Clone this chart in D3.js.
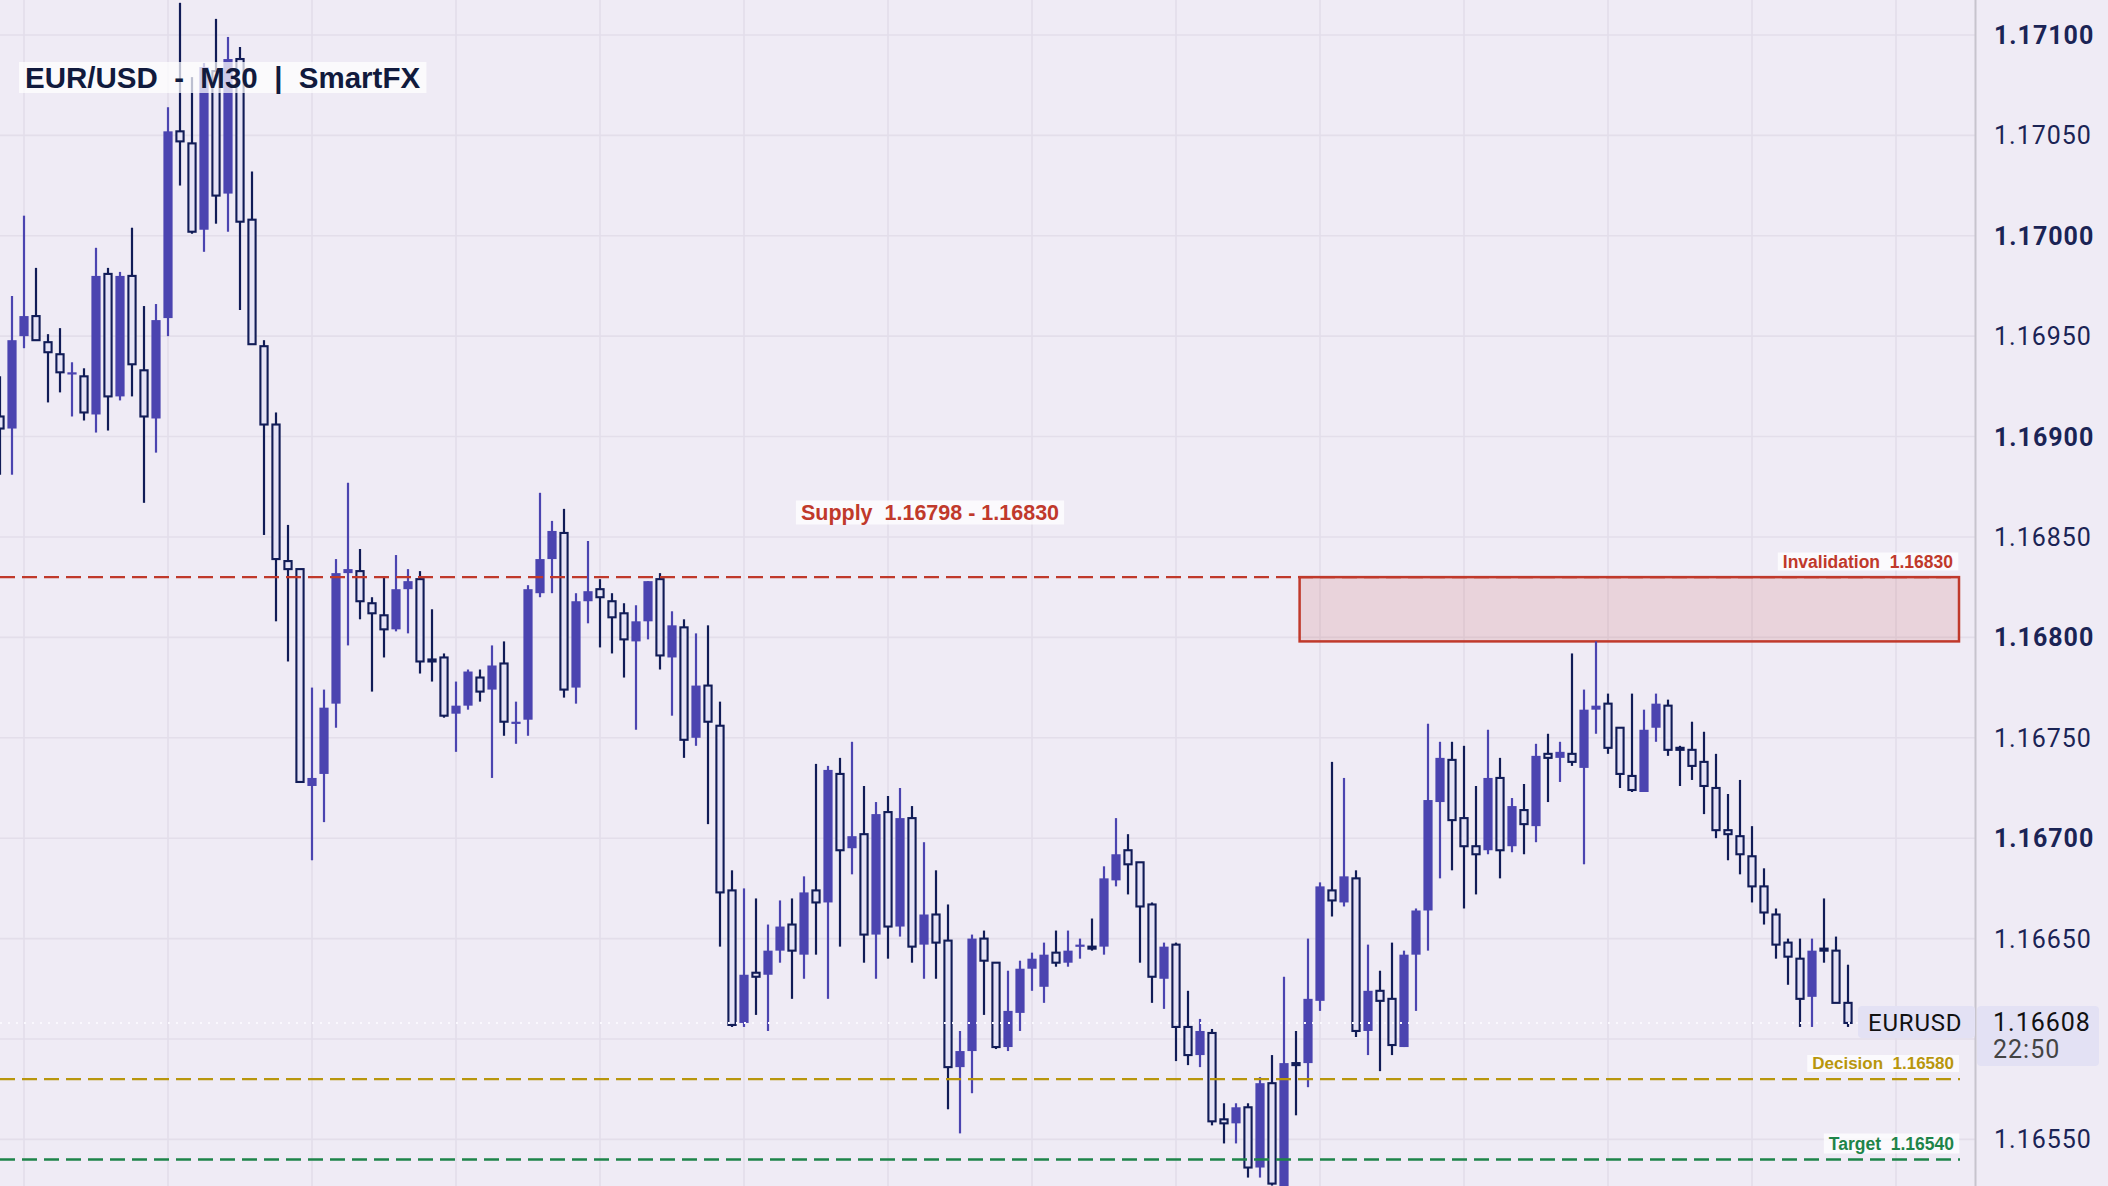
<!DOCTYPE html>
<html><head><meta charset="utf-8">
<script src="https://cdn.jsdelivr.net/npm/d3@7"></script>
<style>html,body{margin:0;padding:0;background:#EFEBF5;overflow:hidden}</style>
</head><body><svg id="c" width="2108" height="1186"></svg>
<script>
// ---- DATA ----
const openP = [
1.16910,1.16904,1.16950,1.16960,1.16947,1.16941,1.16931,1.16930,1.16911,1.16981,
1.16920,1.16980,1.16933,1.16909,1.16959,1.17052,1.17046,1.17003,1.17082,1.17021,
1.17088,1.17008,1.16945,1.16906,1.16838,1.16834,1.16726,1.16732,1.16767,1.16832,
1.16833,1.16817,1.16811,1.16804,1.16824,1.16829,1.16789,1.16790,1.16762,1.16766,
1.16780,1.16774,1.16787,1.16757,1.16759,1.16822,1.16839,1.16852,1.16775,1.16818,
1.16824,1.16818,1.16812,1.16798,1.16808,1.16829,1.16790,1.16805,1.16750,1.16776,
1.16756,1.16674,1.16608,1.16633,1.16632,1.16644,1.16657,1.16642,1.16674,1.16668,
1.16732,1.16695,1.16702,1.16652,1.16713,1.16656,1.16710,1.16647,1.16662,1.16649,
1.16586,1.16594,1.16650,1.16638,1.16596,1.16613,1.16635,1.16626,1.16643,1.16638,
1.16646,1.16646,1.16646,1.16679,1.16694,1.16688,1.16667,1.16630,1.16647,1.16606,
1.16592,1.16603,1.16560,1.16558,1.16566,1.16536,1.16578,1.16526,1.16588,1.16588,
1.16619,1.16674,1.16668,1.16680,1.16604,1.16624,1.16620,1.16596,1.16642,1.16664,
1.16718,1.16739,1.16710,1.16696,1.16694,1.16730,1.16696,1.16714,1.16706,1.16742,
1.16740,1.16742,1.16735,1.16764,1.16767,1.16755,1.16731,1.16723,1.16755,1.16766,
1.16745,1.16744,1.16738,1.16725,1.16704,1.16701,1.16691,1.16676,1.16662,1.16648,
1.16640,1.16621,1.16645,1.16644,1.16618];
const highP = [
1.16930,1.16970,1.17010,1.16984,1.16951,1.16954,1.16937,1.16934,1.16994,1.16984,
1.16982,1.17004,1.16965,1.16966,1.17064,1.17116,1.17079,1.17086,1.17108,1.17099,
1.17094,1.17032,1.16948,1.16912,1.16856,1.16834,1.16775,1.16774,1.16839,1.16877,
1.16844,1.16820,1.16830,1.16841,1.16834,1.16833,1.16814,1.16792,1.16778,1.16784,
1.16784,1.16796,1.16798,1.16768,1.16826,1.16872,1.16858,1.16864,1.16822,1.16848,
1.16829,1.16822,1.16817,1.16816,1.16828,1.16832,1.16813,1.16809,1.16802,1.16806,
1.16768,1.16684,1.16675,1.16670,1.16657,1.16669,1.16670,1.16681,1.16737,1.16736,
1.16740,1.16748,1.16726,1.16718,1.16721,1.16725,1.16716,1.16698,1.16684,1.16667,
1.16604,1.16652,1.16654,1.16638,1.16634,1.16639,1.16643,1.16648,1.16654,1.16654,
1.16650,1.16660,1.16686,1.16710,1.16702,1.16688,1.16668,1.16648,1.16648,1.16624,
1.16610,1.16605,1.16568,1.16568,1.16568,1.16581,1.16592,1.16631,1.16604,1.16650,
1.16678,1.16738,1.16730,1.16684,1.16647,1.16634,1.16648,1.16644,1.16665,1.16757,
1.16748,1.16748,1.16746,1.16726,1.16754,1.16740,1.16720,1.16727,1.16747,1.16752,
1.16748,1.16792,1.16774,1.16798,1.16772,1.16755,1.16772,1.16764,1.16772,1.16769,
1.16746,1.16758,1.16753,1.16742,1.16722,1.16729,1.16706,1.16685,1.16665,1.16650,
1.16650,1.16650,1.16670,1.16651,1.16637];
const lowP = [
1.16881,1.16881,1.16944,1.16948,1.16917,1.16922,1.16910,1.16908,1.16902,1.16903,
1.16918,1.16920,1.16867,1.16892,1.16950,1.17025,1.17001,1.16992,1.17006,1.17002,
1.16963,1.16946,1.16851,1.16808,1.16788,1.16728,1.16689,1.16708,1.16755,1.16796,
1.16809,1.16773,1.16790,1.16803,1.16802,1.16782,1.16778,1.16760,1.16743,1.16764,
1.16768,1.16730,1.16751,1.16747,1.16751,1.16820,1.16822,1.16770,1.16767,1.16807,
1.16795,1.16792,1.16780,1.16754,1.16799,1.16784,1.16761,1.16740,1.16746,1.16707,
1.16646,1.16606,1.16606,1.16612,1.16604,1.16638,1.16620,1.16630,1.16642,1.16620,
1.16646,1.16682,1.16638,1.16630,1.16640,1.16651,1.16638,1.16630,1.16630,1.16565,
1.16553,1.16573,1.16612,1.16595,1.16594,1.16604,1.16624,1.16618,1.16636,1.16636,
1.16640,1.16644,1.16642,1.16676,1.16672,1.16638,1.16618,1.16615,1.16589,1.16587,
1.16586,1.16557,1.16548,1.16548,1.16531,1.16531,1.16527,1.16518,1.16562,1.16576,
1.16614,1.16661,1.16666,1.16601,1.16592,1.16584,1.16592,1.16596,1.16614,1.16644,
1.16680,1.16684,1.16665,1.16672,1.16692,1.16680,1.16693,1.16692,1.16698,1.16718,
1.16728,1.16736,1.16687,1.16752,1.16742,1.16725,1.16723,1.16723,1.16748,1.16741,
1.16726,1.16729,1.16712,1.16700,1.16689,1.16682,1.16668,1.16657,1.16640,1.16627,
1.16606,1.16606,1.16638,1.16618,1.16606];
const closeP = [
1.16904,1.16948,1.16960,1.16948,1.16942,1.16932,1.16932,1.16912,1.16980,1.16920,
1.16980,1.16936,1.16910,1.16958,1.17052,1.17047,1.17002,1.17084,1.17020,1.17088,
1.17007,1.16946,1.16906,1.16839,1.16834,1.16728,1.16730,1.16765,1.16832,1.16834,
1.16818,1.16812,1.16804,1.16824,1.16828,1.16788,1.16788,1.16761,1.16766,1.16783,
1.16773,1.16786,1.16758,1.16758,1.16824,1.16839,1.16853,1.16774,1.16818,1.16823,
1.16820,1.16810,1.16799,1.16808,1.16828,1.16791,1.16806,1.16749,1.16776,1.16758,
1.16673,1.16607,1.16632,1.16631,1.16644,1.16656,1.16644,1.16673,1.16668,1.16734,
1.16694,1.16701,1.16652,1.16712,1.16656,1.16710,1.16646,1.16662,1.16648,1.16586,
1.16594,1.16650,1.16639,1.16596,1.16614,1.16635,1.16640,1.16642,1.16638,1.16644,
1.16647,1.16645,1.16680,1.16692,1.16687,1.16666,1.16631,1.16646,1.16606,1.16592,
1.16604,1.16559,1.16558,1.16566,1.16536,1.16578,1.16528,1.16588,1.16587,1.16620,
1.16676,1.16669,1.16681,1.16604,1.16624,1.16619,1.16597,1.16642,1.16664,1.16719,
1.16740,1.16709,1.16696,1.16692,1.16730,1.16694,1.16716,1.16707,1.16741,1.16740,
1.16743,1.16738,1.16764,1.16766,1.16745,1.16732,1.16724,1.16754,1.16767,1.16744,
1.16744,1.16736,1.16726,1.16704,1.16702,1.16692,1.16676,1.16663,1.16647,1.16641,
1.16620,1.16644,1.16644,1.16618,1.16608];

const gridPrices = [1.1655,1.1660,1.1665,1.1670,1.1675,1.1680,1.1685,1.1690,1.1695,1.1700,1.1705,1.1710];
const tickLabels = ["1.16550","1.16650","1.16700","1.16750","1.16800","1.16850","1.16900","1.16950","1.17000","1.17050","1.17100"];
const gridBars = [2,14,26,38,50,62,74,86,98,110,122,134,146,158];

const titleText = "EUR/USD  -  M30  |  SmartFX";
const symbol = "EURUSD";
const lastPrice = 1.16608;
const lastPriceText = "1.16608";
const countdown = "22:50";
const supplyZone = [1.16798, 1.16830];
const supplyZoneStartBar = 108.3;
const supplyText = "Supply  1.16798 - 1.16830";
const levels = [
  {name:"Invalidation", price:1.16830, text:"Invalidation  1.16830", color:"#C0392B"},
  {name:"Decision", price:1.16580, text:"Decision  1.16580", color:"#B8960C"},
  {name:"Target", price:1.16540, text:"Target  1.16540", color:"#1E8449"}
];

// ---- CHART ----
const W = 2108, H = 1186, plotR = 1975;
const svg = d3.select("#c");
const candles = openP.map((o,i)=>({i, o, h:highP[i], l:lowP[i], c:closeP[i]}));
const x = d3.scaleLinear().domain([0, candles.length-1]).range([0, 12*(candles.length-1)]);
const y = d3.scaleLinear().domain([1.165268, 1.171174]).range([H, 0]);

svg.append("rect").attr("width", W).attr("height", H).attr("fill", "#EFEBF5");

const defs = svg.append("defs");
defs.append("clipPath").attr("id","plotclip").append("rect").attr("x",0).attr("y",0).attr("width",plotR).attr("height",H);

const plot = svg.append("g").attr("clip-path","url(#plotclip)");

// grid
plot.selectAll("line.hg").data(gridPrices).join("line").attr("class","hg")
  .attr("x1",0).attr("x2",plotR).attr("y1",d=>y(d)).attr("y2",d=>y(d))
  .attr("stroke","#E3DEEA").attr("stroke-width",1.6);
plot.selectAll("line.vg").data(gridBars).join("line").attr("class","vg")
  .attr("x1",d=>x(d)).attr("x2",d=>x(d)).attr("y1",0).attr("y2",H)
  .attr("stroke","#E3DEEA").attr("stroke-width",1.6);

// supply zone
plot.append("rect")
  .attr("x", x(supplyZoneStartBar)).attr("y", y(supplyZone[1]))
  .attr("width", 1959 - x(supplyZoneStartBar)).attr("height", y(supplyZone[0]) - y(supplyZone[1]))
  .attr("fill", "rgba(192,57,43,0.13)").attr("stroke", "#C0392B").attr("stroke-width", 2.5);

// candles
const UP = "#4B44B0", DN = "#111C57", HOLLOW = "#E5E3F6";
const cg = plot.append("g");
cg.selectAll("line.wick").data(candles).join("line").attr("class","wick")
  .attr("x1",d=>x(d.i)).attr("x2",d=>x(d.i))
  .attr("y1",d=>y(d.h)).attr("y2",d=>y(d.l))
  .attr("stroke",d=>d.c>d.o?UP:DN).attr("stroke-width",2.2);
cg.selectAll("rect.up").data(candles.filter(d=>d.c>d.o)).join("rect").attr("class","up")
  .attr("x",d=>x(d.i)-4.6).attr("width",9.2)
  .attr("y",d=>y(d.c)).attr("height",d=>Math.max(2.2, y(d.o)-y(d.c)))
  .attr("fill",UP);
cg.selectAll("rect.dn").data(candles.filter(d=>d.c<=d.o)).join("rect").attr("class","dn")
  .attr("x",d=>x(d.i)-3.6).attr("width",7.2)
  .attr("y",d=>y(d.o)).attr("height",d=>Math.max(0.6, y(d.c)-y(d.o)))
  .attr("fill",HOLLOW).attr("stroke",DN).attr("stroke-width",2.1);

// level lines
levels.forEach(l=>{
  plot.append("line").attr("x1",0).attr("x2",1960).attr("y1",y(l.price)).attr("y2",y(l.price))
    .attr("stroke",l.color).attr("stroke-width",2.4).attr("stroke-dasharray","15,7");
});
// current price dotted line
plot.append("line").attr("x1",0).attr("x2",1858).attr("y1",y(lastPrice)).attr("y2",y(lastPrice))
  .attr("stroke","#FAF8FE").attr("stroke-width",2).attr("stroke-dasharray","2,6");

// labels with boxes
function boxedText(g, tx, ty, txt, opts){
  const t = g.append("text").attr("x",tx).attr("y",ty).text(txt)
    .attr("fill",opts.color).attr("font-family",opts.font).attr("font-weight",opts.weight||"bold")
    .attr("font-size",opts.size).attr("text-anchor",opts.anchor||"start").style("white-space","pre");
  const b = t.node().getBBox();
  g.insert("rect","text").attr("x",b.x-opts.px).attr("y",b.y-opts.py)
    .attr("width",b.width+2*opts.px).attr("height",b.height+2*opts.py)
    .attr("fill","#FFFFFF").attr("fill-opacity",opts.op||0.72);
  return t;
}
const lab = svg.append("g");
const lfont = "'Liberation Sans', Arial, sans-serif";
boxedText(lab.append("g"), 930, 519.5, supplyText, {color:"#C0392B", font:lfont, size:21.5, anchor:"middle", px:5, py:0, op:0.75});
boxedText(lab.append("g"), 1953, 567.5, levels[0].text, {color:levels[0].color, font:lfont, size:17.5, anchor:"end", px:5, py:-1, op:0.75});
boxedText(lab.append("g"), 1954, 1069, levels[1].text, {color:levels[1].color, font:lfont, size:17, anchor:"end", px:5, py:-1, op:0.75});
boxedText(lab.append("g"), 1954, 1149.5, levels[2].text, {color:levels[2].color, font:lfont, size:17.5, anchor:"end", px:5, py:0, op:0.75});

// title
boxedText(lab.append("g"), 25, 88, titleText, {color:"#111A3D", font:lfont, size:29.5, px:6, py:-1, op:0.72});

// axis separator
svg.append("line").attr("x1",plotR+0.5).attr("x2",plotR+0.5).attr("y1",0).attr("y2",H)
  .attr("stroke","#C7C4CD").attr("stroke-width",2);

// axis labels
const ax = svg.append("g");
ax.selectAll("text").data(tickLabels).join("text")
  .attr("x",1994).attr("y",d=>y(+d)).attr("dy","0.36em")
  .attr("font-family","Roboto, sans-serif").attr("font-size",25).attr("letter-spacing",1)
  .attr("font-weight",d=>d.endsWith("00")?"bold":"normal")
  .attr("fill","#1B2455").text(d=>d);

// current price boxes
const yc = y(lastPrice);
svg.append("rect").attr("x",1858).attr("y",yc-17).attr("width",117).attr("height",32).attr("rx",4).attr("fill","#E3E1F4");
svg.append("rect").attr("x",1977).attr("y",yc-17).attr("width",122).attr("height",60).attr("rx",4).attr("fill","#E3E1F4");
svg.append("text").attr("x",1868).attr("y",yc+8).text(symbol)
  .attr("font-family","Roboto, sans-serif").attr("font-size",24).attr("letter-spacing",0.8).attr("fill","#111");
svg.append("text").attr("x",1993).attr("y",yc+8).text(lastPriceText)
  .attr("font-family","Roboto, sans-serif").attr("font-size",25).attr("letter-spacing",1).attr("fill","#111");
svg.append("text").attr("x",1993).attr("y",yc+35).text(countdown)
  .attr("font-family","Roboto, sans-serif").attr("font-size",25).attr("letter-spacing",1).attr("fill","#444");
</script></body></html>
